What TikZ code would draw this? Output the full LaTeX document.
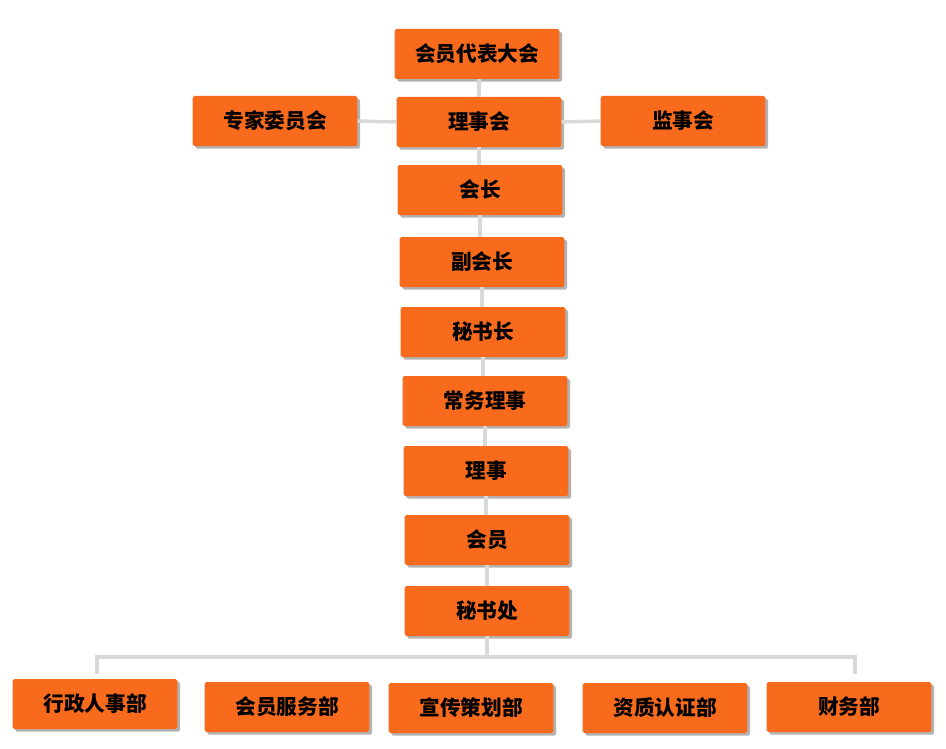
\documentclass[tikz,border=0pt]{standalone}
\usepackage{fontspec}
\newfontfamily\cjk{Noto Sans CJK SC}
\usetikzlibrary{shadows}

\tikzset{
  unit/.style={draw=none, fill=orgbox, rounded corners=1.2pt, minimum width=123.5pt,
    minimum height=37.5pt, inner sep=0pt, font=\cjk\bfseries\fontsize{15.5}{16}\selectfont,
    drop shadow={shadow xshift=2pt, shadow yshift=-2pt, fill=black, opacity=0.3}},
  link/.style={draw=linkgray, line width=2.6pt}
}
\definecolor{orgbox}{HTML}{F86B1D}
\definecolor{linkgray}{HTML}{D9D9D9}

\begin{document}
\begin{tikzpicture}[x=0.75pt, y=-0.75pt]
    \useasboundingbox (0,0) rectangle (946,749);

    % draw nodes
    \node[unit] (congress) at (477,54) {会员代表大会};
    \node[unit] (experts) at (275,121) {专家委员会};
    \node[unit] (council) at (479,122) {理事会};
    \node[unit] (board) at (683,121) {监事会};
    \node[unit] (chair) at (480,190) {会长};
    \node[unit] (vicechair) at (482,262) {副会长};
    \node[unit] (secgen) at (483,332) {秘书长};
    \node[unit] (standing) at (485,401) {常务理事};
    \node[unit] (director) at (486,471) {理事};
    \node[unit] (member) at (487,540) {会员};
    \node[unit] (office) at (487,611) {秘书处};

    \node[unit] (admin) at (95,704) {行政人事部};
    \node[unit] (service) at (287,707) {会员服务部};
    \node[unit] (promo) at (471,708) {宣传策划部};
    \node[unit] (cert) at (665,708) {资质认证部};
    \node[unit] (finance) at (849,707) {财务部};

    % draw vertical lines
    \draw[link] (council.north) -- (council.north |- congress.south);
    \draw[link] (council.south) -- (council.south |- chair.north);
    \draw[link] (chair.south) -- (chair.south |- vicechair.north);
    \draw[link] (vicechair.south) -- (vicechair.south |- secgen.north);
    \draw[link] (secgen.south) -- (secgen.south |- standing.north);
    \draw[link] (standing.south) -- (standing.south |- director.north);
    \draw[link] (director.south) -- (director.south |- member.north);
    \draw[link] (member.south) -- (member.south |- office.north);

    % draw side lines
    \draw[link] (council.west) -- (experts.east);
    \draw[link] (council.east) -- (board.east -| board.west);

    % draw bus to departments
    \coordinate (busmid) at (487,657);
    \coordinate (busleft) at (97,657);
    \coordinate (busright) at (855,657);
    \coordinate (dropleft) at (97,674);
    \coordinate (dropright) at (855,674);
    \draw[link] (office) -- (busmid);
    \draw[link] (dropleft) -- (busleft) -- (busright) -- (dropright);
\end{tikzpicture}
\end{document}
